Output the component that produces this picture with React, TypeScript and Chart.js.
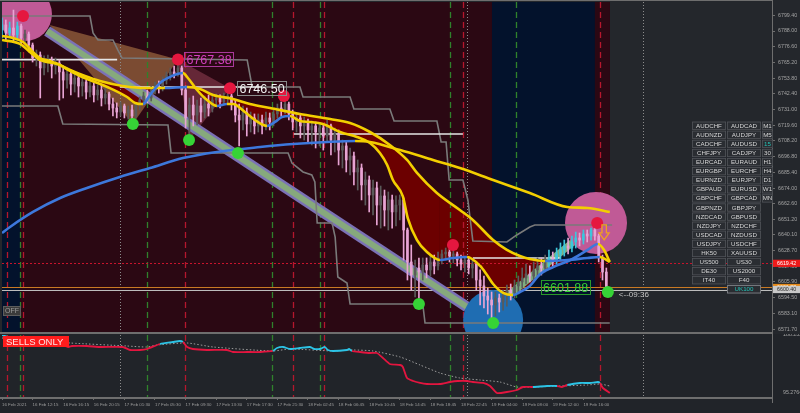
import { useEffect, useRef } from 'react';
import { Chart, registerables } from 'chart.js';

Chart.register(...registerables);

const FONT = "'Liberation Sans', Arial, Helvetica, sans-serif";
const YELLOW = '#f3cf00';
const BLUE = '#3d78dc';

// ---- time axis: 30-minute bars, one label every 8 bars ----
const timeLabels = [
  '16 Feb 2021', '16 Feb 12:15', '16 Feb 16:15', '16 Feb 20:15', '17 Feb 01:30',
  '17 Feb 05:30', '17 Feb 09:30', '17 Feb 13:30', '17 Feb 17:30', '17 Feb 21:30',
  '18 Feb 02:45', '18 Feb 06:45', '18 Feb 10:45', '18 Feb 14:45', '18 Feb 18:45',
  '18 Feb 22:45', '19 Feb 04:00', '19 Feb 08:00', '19 Feb 12:00', '19 Feb 16:00',
];
const timeLabelBars = [0, 8, 16, 24, 32, 40, 48, 56, 64, 72, 80, 88, 96, 104, 112, 120, 128, 136, 144, 152];

// ---- candles ----
const opens = [
  6788.7, 6792.4, 6786.6, 6790.2, 6785.1, 6791.6, 6782.9, 6785.8, 6777.8, 6768.4,
  6770.6, 6761.2, 6765.5, 6767.0, 6762.6, 6764.8, 6758.3, 6752.4, 6756.8, 6749.5,
  6753.9, 6748.1, 6751.0, 6743.7, 6748.1, 6741.6, 6745.2, 6739.4, 6742.3, 6735.0,
  6732.1, 6729.2, 6733.6, 6728.5, 6730.7, 6726.3, 6734.3, 6737.9, 6740.8, 6739.4,
  6745.2, 6748.1, 6746.6, 6752.4, 6756.1, 6758.3, 6756.8, 6761.2, 6745.2, 6724.9,
  6734.3, 6727.0, 6733.6, 6729.2, 6735.0, 6732.1, 6737.9, 6739.4, 6736.5, 6740.1,
  6740.8, 6735.0, 6727.0, 6723.4, 6729.2, 6720.5, 6724.9, 6719.1, 6723.4, 6719.1,
  6724.9, 6722.0, 6727.8, 6732.1, 6730.7, 6735.0, 6727.8, 6722.0, 6724.9, 6719.1,
  6722.0, 6716.2, 6719.1, 6714.7, 6717.6, 6711.8, 6719.1, 6708.9, 6713.3, 6701.6,
  6704.6, 6694.4, 6697.3, 6685.7, 6688.6, 6676.3, 6679.9, 6669.0, 6674.1, 6661.7,
  6668.3, 6658.1, 6665.4, 6656.7, 6661.7, 6665.4, 6643.6, 6620.4, 6610.9, 6616.0,
  6613.1, 6618.2, 6614.6, 6620.4, 6617.5, 6623.3, 6626.2, 6627.6, 6624.7, 6626.2,
  6621.8, 6618.9, 6621.8, 6616.0, 6618.9, 6607.3, 6603.0, 6595.7, 6592.8, 6589.2,
  6594.2, 6591.3, 6596.4, 6600.0, 6597.9, 6603.0, 6605.9, 6608.8, 6611.7, 6610.2,
  6614.6, 6617.5, 6616.0, 6620.4, 6623.3, 6621.8, 6626.2, 6629.1, 6632.0, 6630.5,
  6634.9, 6637.8, 6636.3, 6640.7, 6639.2, 6643.6, 6639.2, 6623.3, 6613.1,
];
const highs = [
  6797.4, 6796.0, 6794.5, 6803.2, 6794.5, 6793.1, 6788.7, 6787.3, 6779.3, 6774.2,
  6772.8, 6769.9, 6770.6, 6769.1, 6768.4, 6767.0, 6762.6, 6761.2, 6759.7, 6758.3,
  6756.1, 6753.9, 6752.4, 6751.0, 6750.3, 6748.8, 6748.8, 6746.6, 6743.7, 6739.4,
  6735.8, 6736.5, 6735.0, 6733.6, 6734.3, 6735.8, 6740.1, 6743.7, 6745.2, 6748.1,
  6751.0, 6751.7, 6754.6, 6758.3, 6761.2, 6762.6, 6764.8, 6762.6, 6748.1, 6739.4,
  6740.8, 6737.9, 6739.4, 6740.8, 6741.6, 6742.3, 6742.3, 6741.6, 6743.0, 6743.7,
  6742.3, 6737.9, 6735.0, 6733.6, 6732.1, 6729.2, 6727.8, 6727.8, 6727.0, 6729.2,
  6728.5, 6730.7, 6735.0, 6736.5, 6737.9, 6736.5, 6730.7, 6727.8, 6727.0, 6725.6,
  6724.1, 6722.7, 6722.0, 6720.5, 6720.5, 6723.4, 6720.5, 6717.6, 6716.2, 6708.9,
  6707.5, 6703.1, 6700.2, 6694.4, 6691.5, 6685.7, 6682.8, 6679.9, 6678.4, 6675.5,
  6672.6, 6671.2, 6669.0, 6668.3, 6669.0, 6666.8, 6645.0, 6632.7, 6621.8, 6623.3,
  6623.3, 6623.3, 6625.4, 6625.4, 6627.6, 6629.1, 6630.5, 6629.8, 6629.1, 6627.6,
  6625.4, 6624.7, 6624.0, 6621.8, 6620.4, 6614.6, 6610.2, 6601.5, 6598.6, 6598.6,
  6597.1, 6600.0, 6603.7, 6604.4, 6607.3, 6610.2, 6616.0, 6618.9, 6617.5, 6620.4,
  6623.3, 6623.3, 6625.4, 6629.1, 6627.6, 6630.5, 6634.2, 6636.3, 6637.8, 6639.2,
  6642.1, 6641.4, 6643.6, 6643.6, 6645.0, 6646.5, 6640.7, 6625.4, 6616.0,
];
const lows = [
  6782.9, 6781.5, 6784.4, 6780.0, 6781.5, 6777.8, 6775.7, 6772.8, 6765.5, 6762.6,
  6739.4, 6756.1, 6758.3, 6753.9, 6756.8, 6737.9, 6739.4, 6746.6, 6741.6, 6743.7,
  6740.1, 6740.8, 6738.7, 6740.1, 6736.5, 6737.9, 6733.6, 6735.0, 6730.7, 6726.3,
  6724.9, 6726.3, 6724.9, 6724.1, 6723.4, 6724.9, 6730.7, 6735.0, 6735.8, 6737.2,
  6742.3, 6743.0, 6744.5, 6749.5, 6752.4, 6753.9, 6755.3, 6741.6, 6717.6, 6712.5,
  6719.1, 6719.8, 6722.0, 6724.9, 6726.3, 6729.2, 6733.6, 6732.1, 6734.3, 6735.8,
  6730.7, 6722.0, 6704.6, 6716.2, 6711.8, 6714.7, 6713.3, 6714.7, 6713.3, 6716.2,
  6716.2, 6719.1, 6724.9, 6726.3, 6727.8, 6723.4, 6716.2, 6714.7, 6710.4, 6708.9,
  6707.5, 6705.3, 6703.1, 6704.6, 6701.6, 6707.5, 6698.0, 6700.2, 6690.8, 6688.6,
  6685.7, 6683.5, 6676.3, 6672.6, 6665.4, 6661.7, 6656.7, 6654.5, 6647.2, 6645.0,
  6646.5, 6643.6, 6645.0, 6646.5, 6650.9, 6621.8, 6607.3, 6600.0, 6595.0, 6594.2,
  6607.3, 6608.8, 6610.2, 6611.7, 6614.6, 6618.9, 6621.8, 6620.4, 6619.6, 6617.5,
  6614.6, 6613.1, 6611.7, 6608.8, 6600.0, 6589.2, 6587.0, 6582.6, 6579.7, 6581.2,
  6584.1, 6585.5, 6588.4, 6592.8, 6594.2, 6597.1, 6601.5, 6604.4, 6605.9, 6607.3,
  6610.2, 6610.9, 6613.1, 6616.0, 6617.5, 6618.9, 6621.8, 6624.7, 6626.2, 6627.6,
  6630.5, 6632.0, 6633.4, 6634.9, 6636.3, 6636.3, 6620.4, 6607.3, 6598.6,
];
const closes = [
  6792.4, 6786.6, 6790.2, 6785.1, 6791.6, 6782.9, 6785.8, 6777.8, 6768.4, 6770.6,
  6761.2, 6765.5, 6767.0, 6762.6, 6764.8, 6758.3, 6752.4, 6756.8, 6749.5, 6753.9,
  6748.1, 6751.0, 6743.7, 6748.1, 6741.6, 6745.2, 6739.4, 6742.3, 6735.0, 6732.1,
  6729.2, 6733.6, 6728.5, 6730.7, 6726.3, 6734.3, 6737.9, 6740.8, 6739.4, 6745.2,
  6748.1, 6746.6, 6752.4, 6756.1, 6758.3, 6756.8, 6761.2, 6745.2, 6724.9, 6734.3,
  6727.0, 6733.6, 6729.2, 6735.0, 6732.1, 6737.9, 6739.4, 6736.5, 6740.1, 6740.8,
  6735.0, 6727.0, 6723.4, 6729.2, 6720.5, 6724.9, 6719.1, 6723.4, 6719.1, 6724.9,
  6722.0, 6727.8, 6732.1, 6730.7, 6735.0, 6727.8, 6722.0, 6724.9, 6719.1, 6722.0,
  6716.2, 6719.1, 6714.7, 6717.6, 6711.8, 6719.1, 6708.9, 6713.3, 6701.6, 6704.6,
  6694.4, 6697.3, 6685.7, 6688.6, 6676.3, 6679.9, 6669.0, 6674.1, 6661.7, 6668.3,
  6658.1, 6665.4, 6656.7, 6661.7, 6665.4, 6643.6, 6620.4, 6610.9, 6616.0, 6613.1,
  6618.2, 6614.6, 6620.4, 6617.5, 6623.3, 6626.2, 6627.6, 6624.7, 6626.2, 6621.8,
  6618.9, 6621.8, 6616.0, 6618.9, 6607.3, 6603.0, 6595.7, 6592.8, 6589.2, 6594.2,
  6591.3, 6596.4, 6600.0, 6597.9, 6603.0, 6605.9, 6608.8, 6611.7, 6610.2, 6614.6,
  6617.5, 6616.0, 6620.4, 6623.3, 6621.8, 6626.2, 6629.1, 6632.0, 6630.5, 6634.9,
  6637.8, 6636.3, 6640.7, 6639.2, 6643.6, 6639.2, 6623.3, 6613.1, 6600.4,
];

// ---- moving averages as [bar, price] ----
const maFast = [
  [0, 6784.4], [2.9, 6782.9], [5.5, 6780.0], [8.1, 6772.8], [9.9, 6768.4], [12.5, 6766.2],
  [14.6, 6764.1], [17.8, 6759.0], [20.4, 6755.3], [24.3, 6751.0], [28.2, 6746.6], [32.7, 6740.1],
  [34.8, 6735.8], [36.9, 6735.0], [38.7, 6741.6], [41.3, 6750.3], [44.4, 6755.3], [47.3, 6757.5],
  [48.6, 6753.9], [51.0, 6745.2], [53.6, 6737.9], [56.2, 6733.6], [58.8, 6735.0], [60.4, 6735.0],
  [63.5, 6729.2], [66.1, 6723.4], [69.3, 6719.1], [71.4, 6722.0], [73.2, 6725.6], [75.3, 6726.3],
  [77.9, 6722.7], [80.5, 6722.0], [83.9, 6720.5], [88.4, 6714.7], [92.8, 6711.1], [96.2, 6706.7],
  [98.8, 6699.5], [100.7, 6690.8], [102.2, 6679.9], [104.8, 6668.0], [106.1, 6652.0], [108.5, 6636.3],
  [111.1, 6627.6], [114.5, 6621.8], [117.9, 6623.3], [121.6, 6624.0], [125.0, 6617.5], [126.8, 6610.9],
  [128.4, 6604.4], [131.0, 6597.9], [133.6, 6596.4], [135.4, 6598.6], [138.0, 6603.0], [140.7, 6611.7],
  [144.1, 6616.7], [148.6, 6621.8], [153.1, 6629.1], [155.8, 6633.4], [157.4, 6629.1], [158.9, 6620.4],
];
const maMid = [
  [0, 6781.5], [4.7, 6778.6], [7.3, 6772.8], [9.9, 6767.0], [14.4, 6764.1], [17.8, 6759.7],
  [21.7, 6755.3], [25.6, 6751.7], [31.6, 6748.1], [37.9, 6746.6], [42.6, 6746.6], [48.4, 6747.4],
  [51.8, 6745.9], [55.2, 6741.6], [60.4, 6738.7], [64.8, 6735.0], [70.1, 6732.1], [77.9, 6727.8],
  [85.8, 6724.1], [91.0, 6721.2], [96.2, 6714.7], [101.4, 6705.3], [105.9, 6694.4], [108.5, 6685.0],
  [113.7, 6670.4], [119.7, 6658.1], [123.1, 6650.9], [128.4, 6636.3], [132.0, 6629.1], [135.4, 6624.7],
  [138.0, 6622.5], [142.0, 6621.1], [147.8, 6621.8], [153.1, 6623.3], [156.3, 6624.0], [158.9, 6620.4],
];
const maLong = [
  [0, 6641.4], [2.1, 6645.8], [8.1, 6656.7], [15.2, 6666.8], [22.2, 6674.1], [30.8, 6682.1],
  [38.7, 6688.6], [47.3, 6695.8], [56.2, 6700.2], [67.5, 6703.8], [76.1, 6706.0], [85.0, 6707.5],
  [92.3, 6708.2], [96.2, 6707.5], [104.1, 6701.6], [112.7, 6694.4], [119.7, 6688.6], [128.4, 6679.9],
  [138.0, 6670.4], [147.8, 6660.3], [153.1, 6659.6], [158.9, 6656.7],
];

// ---- price envelope (stepped) ----
const upperEnvelope = [
  [0, 6798.9], [23.0, 6798.9], [23.8, 6786.6], [25.1, 6781.5], [29.0, 6781.5], [30.3, 6774.2],
  [31.4, 6768.4], [64.1, 6767.0], [65.4, 6747.4], [77.9, 6747.4], [78.7, 6740.1], [91.0, 6740.1],
  [92.0, 6731.4], [101.4, 6731.4], [102.5, 6722.7], [113.7, 6722.7], [114.8, 6707.5], [116.1, 6707.5],
  [116.9, 6679.9], [120.5, 6679.9], [121.8, 6665.4], [123.1, 6635.6], [132.0, 6634.9], [134.6, 6640.0],
  [138.0, 6645.8], [139.3, 6647.2], [159.5, 6647.2],
];
const lowerEnvelope = [
  [0, 6733.6], [14.6, 6733.6], [15.9, 6720.5], [43.4, 6719.8], [44.2, 6699.5], [74.8, 6699.5],
  [75.8, 6692.2], [78.7, 6685.7], [81.0, 6683.5], [81.8, 6678.4], [82.4, 6648.7], [86.3, 6648.7],
  [87.1, 6638.5], [87.8, 6609.5], [90.2, 6605.1], [91.0, 6589.9], [107.5, 6589.9], [110.1, 6587.7],
  [110.6, 6576.1], [158.9, 6576.1],
];

// ---- levels and signals ----
const levelSegments = [
  [0, 30.1, 6767.2], [30.8, 68.0, 6747.4], [76.3, 120.5, 6713.3], [123.1, 145.9, 6623.3],
];
const sellSignals = [
  [5.5, 6798.9], [46.0, 6767.38], [59.6, 6746.5], [73.7, 6740.8], [117.9, 6632.7], [155.6, 6648.7],
];
const buySignals = [
  [34.2, 6720.5], [48.9, 6708.9], [61.7, 6699.5], [109.0, 6589.9], [128.4, 6576.1], [158.4, 6598.6],
];
const zoneCircles = [[6.0, 6800.3], [128.4, 6578.3], [155.3, 6648.7]];
const fanUp = [[12.5, 6792.4], [46.0, 6767.38], [34.2, 6720.5], [12.5, 6792.4]];
const fanDown = [[46.0, 6767.38], [59.6, 6746.5], [48.9, 6708.9], [46.0, 6767.38]];
const trendDown = [[11.8, 6788.0], [121.6, 6587.7]];
const trendUp = [[129.4, 6589.2], [149.3, 6634.9]];

const priceTicks = [
  6799.4, 6788.0, 6776.6, 6765.2, 6753.8, 6742.4, 6731.0, 6719.6, 6708.2, 6696.8, 6685.4,
  6674.0, 6662.6, 6651.2, 6640.1, 6628.7, 6617.3, 6605.9, 6594.5, 6583.1, 6571.7,
];
const alertPrice = 6619.42;
const askPrice = 6601.88;
const bidPrice = 6600.4;

// ---- session shading and markers (bar units) ----
const navyZones = [[0, 4.7], [128.1, 155.0]];
const sessionEnd = 158.95;
const greenMarks = [4.7, 37.9, 70.6, 83.1, 117.1, 134.4];
const redMarks = [1.3, 5.5, 47.8, 76.1, 84.2, 120.5, 156.3];
const separators = [30.8, 121.6, 167.6];

// ---- oscillator panel ----
const oscLine = [
  [0, 188.23], [1.6, 185.03], [6.0, 178.62], [11.2, 173.81], [15.7, 172.2], [17.3, 169.0],
  [18.3, 170.6], [22.2, 170.6], [25.6, 169.0], [31.6, 169.0], [33.5, 164.19], [36.1, 164.19],
  [37.9, 165.79], [41.3, 173.81], [44.7, 177.01], [46.5, 178.62], [47.3, 177.01], [48.4, 169.0],
  [49.9, 165.79], [53.6, 164.19], [58.8, 164.19], [60.4, 160.99], [64.1, 160.99], [67.5, 160.99],
  [70.8, 162.59], [71.9, 167.4], [73.5, 169.0], [75.3, 165.79], [77.9, 167.4], [80.5, 169.0],
  [81.6, 165.79], [83.1, 165.79], [83.7, 167.4], [84.4, 169.0], [85.2, 164.19], [86.5, 162.59],
  [90.2, 164.19], [90.7, 165.79], [91.5, 162.59], [93.6, 160.99], [96.2, 159.38], [98.0, 159.38],
  [99.6, 151.37], [101.4, 141.75], [104.1, 140.15], [104.8, 136.95], [105.9, 119.32], [107.5, 114.51],
  [109.3, 111.31], [111.1, 109.71], [114.5, 109.71], [117.1, 112.91], [119.2, 114.51], [121.6, 114.51],
  [123.1, 112.91], [125.8, 111.31], [127.6, 106.5], [129.4, 95.28], [132.0, 96.88], [134.6, 100.09],
  [136.2, 104.9], [138.8, 104.9], [142.5, 106.5], [145.1, 106.5], [146.4, 104.9], [147.8, 108.1],
  [151.1, 111.31], [153.7, 111.31], [155.8, 112.91], [156.3, 111.31], [157.1, 103.29], [158.9, 95.28],
];
const oscSignal = [
  [0, 183.42], [7.3, 180.22], [17.8, 175.41], [32.7, 170.6], [37.9, 169.0], [40.5, 172.2],
  [48.4, 175.41], [55.2, 169.0], [70.8, 162.59], [75.3, 165.79], [86.5, 162.59], [91.8, 164.19],
  [97.0, 162.59], [104.1, 152.97], [109.3, 140.15], [114.5, 127.33], [119.7, 119.32], [125.0, 116.11],
  [130.2, 112.91], [134.6, 104.9], [138.8, 104.9], [145.9, 106.5], [153.1, 108.1], [156.3, 109.71],
  [158.9, 106.5],
];
const oscTicks = [188.2322, 95.2764];

// ---- symbol / period selector ----
const pairColumnA = [
  'AUDCHF', 'AUDNZD', 'CADCHF', 'CHFJPY', 'EURCAD', 'EURGBP', 'EURNZD', 'GBPAUD', 'GBPCHF',
  'GBPNZD', 'NZDCAD', 'NZDJPY', 'USDCAD', 'USDJPY', 'HK50', 'US500', 'DE30', 'IT40',
];
const pairColumnB = [
  'AUDCAD', 'AUDJPY', 'AUDUSD', 'CADJPY', 'EURAUD', 'EURCHF', 'EURJPY', 'EURUSD', 'GBPCAD',
  'GBPJPY', 'GBPUSD', 'NZDCHF', 'NZDUSD', 'USDCHF', 'XAUUSD', 'US30', 'US2000', 'F40', 'UK100',
];
const periodColumn = ['M1', 'M5', '15', '30', 'H1', 'H4', 'D1', 'W1', 'MN'];
const activeSymbol = 'UK100';
const activePeriod = '15';

const X_MIN = 0;
const X_MAX = 201.31;

const pts = (rows: number[][]) => rows.map(([x, y]) => ({ x, y }));

function valueAt(points: number[][], x: number): number {
  if (x <= points[0][0]) return points[0][1];
  for (let k = 1; k < points.length; k++) {
    const [x1, y1] = points[k];
    if (x <= x1) {
      const [x0, y0] = points[k - 1];
      return y0 + ((y1 - y0) * (x - x0)) / (x1 - x0);
    }
  }
  return points[points.length - 1][1];
}

const inNavy = (bar: number) => navyZones.some(([s, e]) => bar >= s && bar <= e);

function candleColor(i: number): string {
  if (closes[i] < opens[i]) return '#e8a4d4';
  if (inNavy(i) && closes[i] > valueAt(maMid, i)) return '#3cc6dc';
  return '#5a5a5a';
}

const trendSegment = {
  borderColor: (c: any) => (c.p1.parsed.y > c.p0.parsed.y ? BLUE : YELLOW),
};

function drawMarks(chart: any) {
  const { ctx, chartArea: a, scales } = chart;
  const x = scales.x;
  const vline = (bar: number, color: string, dash: number[], width: number) => {
    const px = Math.round(x.getPixelForValue(bar)) + 0.5;
    ctx.strokeStyle = color;
    ctx.setLineDash(dash);
    ctx.lineWidth = width;
    ctx.beginPath();
    ctx.moveTo(px, a.top);
    ctx.lineTo(px, a.bottom);
    ctx.stroke();
  };
  ctx.save();
  separators.forEach((b) => vline(b, '#8c8c8c', [1, 2], 1));
  greenMarks.forEach((b) => vline(b, '#2f822c', [6, 4], 1.3));
  redMarks.forEach((b) => vline(b, '#b5172d', [6, 4], 1.3));
  ctx.restore();
}

const mainDecor = {
  id: 'mainDecor',
  beforeDraw(chart: any) {
    const { ctx, chartArea: a, scales } = chart;
    const x = scales.x;
    ctx.save();
    ctx.fillStyle = '#24272c';
    ctx.fillRect(0, 0, chart.width, chart.height);
    const ex = x.getPixelForValue(sessionEnd);
    ctx.fillStyle = '#2b0813';
    ctx.fillRect(a.left, a.top, ex - a.left, a.bottom - a.top);
    ctx.fillStyle = '#03122c';
    navyZones.forEach(([s, e]) => {
      const l = Math.max(a.left, x.getPixelForValue(s));
      ctx.fillRect(l, a.top, x.getPixelForValue(e) - l, a.bottom - a.top);
    });
    ctx.restore();
  },
  beforeDatasetsDraw(chart: any) {
    const { ctx, chartArea: a, scales } = chart;
    const y = scales.y;
    drawMarks(chart);
    ctx.save();
    const hline = (price: number, color: string, dash: number[]) => {
      const py = Math.round(y.getPixelForValue(price)) + 0.5;
      ctx.strokeStyle = color;
      ctx.setLineDash(dash);
      ctx.lineWidth = 1;
      ctx.beginPath();
      ctx.moveTo(a.left, py);
      ctx.lineTo(a.right, py);
      ctx.stroke();
    };
    hline(alertPrice, '#c8142c', [2, 2]);
    hline(askPrice, '#c97a24', []);
    hline(bidPrice, '#bdbdbd', []);
    ctx.restore();
  },
  afterDatasetsDraw(chart: any) {
    const { ctx, scales } = chart;
    const x = scales.x;
    const y = scales.y;
    ctx.save();
    const boxed = (text: string, left: number, cy: number, color: string, border: string) => {
      ctx.font = `12.5px ${FONT}`;
      const w = ctx.measureText(text).width;
      ctx.strokeStyle = border;
      ctx.lineWidth = 1;
      ctx.strokeRect(Math.round(left) + 0.5, Math.round(cy - 7) + 0.5, Math.round(w + 4), 14);
      ctx.fillStyle = color;
      ctx.textAlign = 'left';
      ctx.textBaseline = 'middle';
      ctx.fillText(text, left + 2.5, cy + 1);
    };
    const [hb1, hp1] = sellSignals[1];
    const [hb2, hp2] = sellSignals[2];
    boxed(hp1.toFixed(2), x.getPixelForValue(hb1) + 6, y.getPixelForValue(hp1), '#d43fc0', '#a9399c');
    boxed(hp2.toFixed(2), x.getPixelForValue(hb2) + 7, y.getPixelForValue(hp2), '#f2f2f2', '#8a8a8a');
    boxed(askPrice.toFixed(2), x.getPixelForValue(140.8), y.getPixelForValue(askPrice), '#33d233', '#2a9a2a');

    // orange down arrow next to the last sell signal
    const [ab, ap] = sellSignals[5];
    const cx = x.getPixelForValue(ab) + 7;
    const top = y.getPixelForValue(ap) + 2;
    ctx.strokeStyle = '#f2a020';
    ctx.lineWidth = 1.3;
    ctx.beginPath();
    ctx.moveTo(cx - 2.2, top);
    ctx.lineTo(cx + 2.2, top);
    ctx.lineTo(cx + 2.2, top + 8);
    ctx.lineTo(cx + 5, top + 8);
    ctx.lineTo(cx, top + 15);
    ctx.lineTo(cx - 5, top + 8);
    ctx.lineTo(cx - 2.2, top + 8);
    ctx.closePath();
    ctx.stroke();

    // bar countdown
    const [lb, lp] = buySignals[5];
    ctx.fillStyle = '#c4c4c4';
    ctx.font = `8px ${FONT}`;
    ctx.textAlign = 'left';
    ctx.textBaseline = 'middle';
    ctx.fillText('<--09:36', x.getPixelForValue(lb) + 11, y.getPixelForValue(lp) + 3);

    // OFF switch
    ctx.fillStyle = '#3b3b3b';
    ctx.fillRect(3, 306, 18, 10);
    ctx.strokeStyle = '#5c5c5c';
    ctx.lineWidth = 1;
    ctx.strokeRect(3.5, 306.5, 17, 9);
    ctx.fillStyle = '#9c9c9c';
    ctx.font = `7px ${FONT}`;
    ctx.textAlign = 'center';
    ctx.fillText('OFF', 12, 311.5);
    ctx.restore();
  },
  afterDraw(chart: any) {
    const { ctx, chartArea: a, scales } = chart;
    const y = scales.y;
    ctx.save();
    // frame
    ctx.fillStyle = '#6e6e6e';
    ctx.fillRect(0, 0, a.right, 1);
    ctx.fillRect(0, 332, a.right + 1, 2);
    ctx.fillRect(a.right, 0, 1, chart.height);

    // price tags on the axis
    const tag = (price: number, bg: string, fg: string) => {
      const py = y.getPixelForValue(price);
      ctx.fillStyle = bg;
      ctx.fillRect(a.right + 1, py - 3.6, 27, 7.2);
      ctx.fillStyle = fg;
      ctx.font = `5.3px ${FONT}`;
      ctx.textAlign = 'left';
      ctx.textBaseline = 'middle';
      ctx.fillText(price.toFixed(2), a.right + 5, py + 0.3);
    };
    tag(alertPrice, '#ee1a1a', '#ffffff');
    tag(askPrice, '#e4891a', '#ffffff');
    tag(bidPrice, '#c9c9c9', '#2a2a2a');

    // symbol / period selector
    const rowTop = (r: number) => 121.6 + r * 9.09;
    const cell = (left: number, r: number, w: number, text: string, active: boolean) => {
      const t = rowTop(r);
      ctx.fillStyle = '#2a2d32';
      ctx.fillRect(left, t, w, 8.2);
      ctx.strokeStyle = active && text === activeSymbol ? '#8a8d92' : '#505358';
      ctx.lineWidth = 0.8;
      ctx.strokeRect(left + 0.4, t + 0.4, w - 0.8, 7.4);
      ctx.fillStyle = active ? '#25c2b6' : '#d6d6d6';
      ctx.font = `6.2px ${FONT}`;
      ctx.textAlign = 'center';
      ctx.textBaseline = 'middle';
      ctx.fillText(text, left + w / 2, t + 4.4);
    };
    pairColumnA.forEach((t, r) => cell(692, r, 34, t, t === activeSymbol));
    pairColumnB.forEach((t, r) => cell(727, r, 34, t, t === activeSymbol));
    periodColumn.forEach((t, r) => cell(762, r, 11, t, t === activePeriod));
    ctx.restore();
  },
};

const oscDecor = {
  id: 'oscDecor',
  beforeDraw(chart: any) {
    const { ctx } = chart;
    ctx.save();
    ctx.fillStyle = '#212429';
    ctx.fillRect(0, 0, chart.width, chart.height);
    ctx.restore();
  },
  beforeDatasetsDraw(chart: any) {
    drawMarks(chart);
  },
  afterDraw(chart: any) {
    const { ctx, chartArea: a } = chart;
    ctx.save();
    ctx.fillStyle = '#6e6e6e';
    ctx.fillRect(0, a.bottom, a.right + 1, 2);
    ctx.fillRect(a.right, 0, 1, a.bottom + 6);
    ctx.fillStyle = '#ff1c1c';
    ctx.fillRect(3, 2, 66, 11);
    ctx.fillStyle = '#ffe4e4';
    ctx.font = `9.5px ${FONT}`;
    ctx.textAlign = 'left';
    ctx.textBaseline = 'middle';
    ctx.fillText('SELLS ONLY', 6, 8);
    ctx.restore();
  },
};

function buildMainConfig(): any {
  const idx = opens.map((_, i) => i);
  const colors = idx.map(candleColor);
  const lineBase = { type: 'line', pointRadius: 0, borderCapStyle: 'butt', tension: 0 };
  const datasets: any[] = [
    { ...lineBase, data: pts(fanUp), fill: 'shape', backgroundColor: 'rgba(172,116,70,0.62)', borderWidth: 0, order: 40 },
    { ...lineBase, data: pts(fanDown), fill: 'shape', backgroundColor: 'rgba(160,70,92,0.5)', borderWidth: 0, order: 39 },
    { ...lineBase, data: pts(trendDown), borderColor: '#7b72b6', borderWidth: 11, order: 38 },
    { ...lineBase, data: pts(trendDown), borderColor: '#86a97c', borderWidth: 6, order: 37 },
    { ...lineBase, data: pts(trendUp), borderColor: '#7fae80', borderWidth: 7, order: 37 },
    {
      type: 'line', data: pts(zoneCircles), showLine: false, pointRadius: [27, 30, 31],
      pointBackgroundColor: ['#c05a96', '#1f6db2', '#c05a96'], pointBorderWidth: 0, order: 36,
    },
    { ...lineBase, data: pts(upperEnvelope), borderColor: '#7a7a7a', borderWidth: 1.6, order: 34 },
    { ...lineBase, data: pts(lowerEnvelope), borderColor: '#7a7a7a', borderWidth: 1.6, order: 34 },
    ...levelSegments.map(([x0, x1, p]) => ({
      ...lineBase, data: [{ x: x0, y: p }, { x: x1, y: p }], borderColor: '#e6e6e6', borderWidth: 1.6, order: 33,
    })),
    {
      type: 'bar', data: idx.map((i) => ({ x: i, y: [lows[i], highs[i]] })), backgroundColor: colors,
      barThickness: 1, grouped: false, borderWidth: 0, order: 30,
    },
    {
      type: 'bar', data: idx.map((i) => ({ x: i, y: [opens[i], closes[i]] })), backgroundColor: colors,
      barThickness: 2, grouped: false, borderWidth: 0, order: 29,
    },
    {
      type: 'line', data: pts(maLong), segment: trendSegment, borderColor: YELLOW, borderWidth: 2.6,
      pointRadius: 0, cubicInterpolationMode: 'monotone', order: 12,
    },
    {
      type: 'line', data: pts(maMid), segment: trendSegment, borderColor: YELLOW, borderWidth: 2.6,
      pointRadius: 0, cubicInterpolationMode: 'monotone', order: 11,
    },
    {
      type: 'line', data: pts(maFast), segment: trendSegment, borderColor: YELLOW, borderWidth: 2.6,
      pointRadius: 0, cubicInterpolationMode: 'monotone', order: 10,
      fill: { target: '-1', above: 'rgba(0,0,0,0)', below: '#6c0000' },
    },
    {
      type: 'line', data: pts(sellSignals), showLine: false, pointRadius: 6,
      pointBackgroundColor: '#e5173f', pointBorderWidth: 0, order: 2,
    },
    {
      type: 'line', data: pts(buySignals), showLine: false, pointRadius: 6,
      pointBackgroundColor: '#36d336', pointBorderWidth: 0, order: 2,
    },
  ];

  return {
    type: 'line',
    data: { datasets },
    options: {
      responsive: false,
      maintainAspectRatio: false,
      animation: false,
      devicePixelRatio: 1,
      events: [],
      layout: { autoPadding: false, padding: { left: 2, top: 2, right: 0, bottom: 2 } },
      plugins: {
        legend: { display: false },
        tooltip: { enabled: false },
        filler: { drawTime: 'beforeDatasetsDraw' },
      },
      scales: {
        x: { type: 'linear', min: X_MIN, max: X_MAX, display: false, offset: false },
        y: {
          type: 'linear',
          position: 'right',
          min: 6569.57,
          max: 6809.05,
          afterBuildTicks: (s: any) => {
            s.ticks = priceTicks.map((value) => ({ value }));
          },
          afterFit: (s: any) => {
            s.width = 28;
            s.paddingTop = 0;
            s.paddingBottom = 0;
          },
          ticks: {
            autoSkip: false,
            callback: (v: any) => Number(v).toFixed(2),
            font: { size: 5.3, family: FONT },
            color: '#a3a3a3',
            padding: 3,
          },
          grid: { drawOnChartArea: false, tickLength: 3, color: '#6e6e6e' },
          border: { display: false },
        },
      },
    },
    plugins: [mainDecor],
  };
}

function buildOscConfig(): any {
  return {
    type: 'line',
    data: {
      datasets: [
        {
          data: pts(oscSignal), borderColor: '#9b9b9b', borderDash: [1.5, 2], borderWidth: 1,
          pointRadius: 0, tension: 0.2, order: 2,
        },
        {
          data: pts(oscLine),
          borderColor: '#e3153f',
          segment: {
            borderColor: (c: any) => {
              const mx = (c.p0.parsed.x + c.p1.parsed.x) / 2;
              const my = (c.p0.parsed.y + c.p1.parsed.y) / 2;
              return my > valueAt(oscSignal, mx) ? '#2cc4e6' : '#e3153f';
            },
          },
          borderWidth: 1.8,
          pointRadius: 0,
          tension: 0.2,
          order: 1,
        },
      ],
    },
    options: {
      responsive: false,
      maintainAspectRatio: false,
      animation: false,
      devicePixelRatio: 1,
      events: [],
      layout: { autoPadding: false, padding: { left: 2, top: 1, right: 0, bottom: 0 } },
      plugins: { legend: { display: false }, tooltip: { enabled: false } },
      scales: {
        x: {
          type: 'linear',
          min: X_MIN,
          max: X_MAX,
          offset: false,
          afterBuildTicks: (s: any) => {
            s.ticks = timeLabelBars.map((value) => ({ value }));
          },
          afterFit: (s: any) => {
            s.height = 16;
            s.paddingLeft = 0;
            s.paddingRight = 0;
          },
          ticks: {
            callback: (_v: any, i: number) => timeLabels[i],
            align: 'start',
            autoSkip: false,
            maxRotation: 0,
            minRotation: 0,
            font: { size: 4.4, family: FONT },
            color: '#9d9d9d',
            padding: 2,
          },
          grid: { drawOnChartArea: false, tickLength: 3, color: '#6e6e6e' },
          border: { display: false },
        },
        y: {
          type: 'linear',
          position: 'right',
          min: 88.864,
          max: 188.2322,
          afterBuildTicks: (s: any) => {
            s.ticks = oscTicks.map((value) => ({ value }));
          },
          afterFit: (s: any) => {
            s.width = 28;
            s.paddingTop = 0;
            s.paddingBottom = 0;
          },
          ticks: {
            autoSkip: false,
            callback: (v: any) => Number(v).toFixed(4),
            font: { size: 5.3, family: FONT },
            color: '#a3a3a3',
            padding: 3,
          },
          grid: { display: false },
          border: { display: false },
        },
      },
    },
    plugins: [oscDecor],
  };
}

export default function App() {
  const mainRef = useRef<HTMLCanvasElement | null>(null);
  const oscRef = useRef<HTMLCanvasElement | null>(null);

  useEffect(() => {
    Chart.defaults.font.family = FONT;
    const main = new Chart(mainRef.current as HTMLCanvasElement, buildMainConfig());
    const osc = new Chart(oscRef.current as HTMLCanvasElement, buildOscConfig());
    return () => {
      main.destroy();
      osc.destroy();
    };
  }, []);

  return (
    <div
      style={{
        position: 'fixed', left: 0, top: 0, width: 800, height: 413,
        background: '#24272c', overflow: 'hidden',
      }}
    >
      <canvas
        ref={mainRef}
        width={800}
        height={334}
        style={{ position: 'absolute', left: 0, top: 0, width: 800, height: 334 }}
      />
      <canvas
        ref={oscRef}
        width={800}
        height={79}
        style={{ position: 'absolute', left: 0, top: 334, width: 800, height: 79 }}
      />
    </div>
  );
}
